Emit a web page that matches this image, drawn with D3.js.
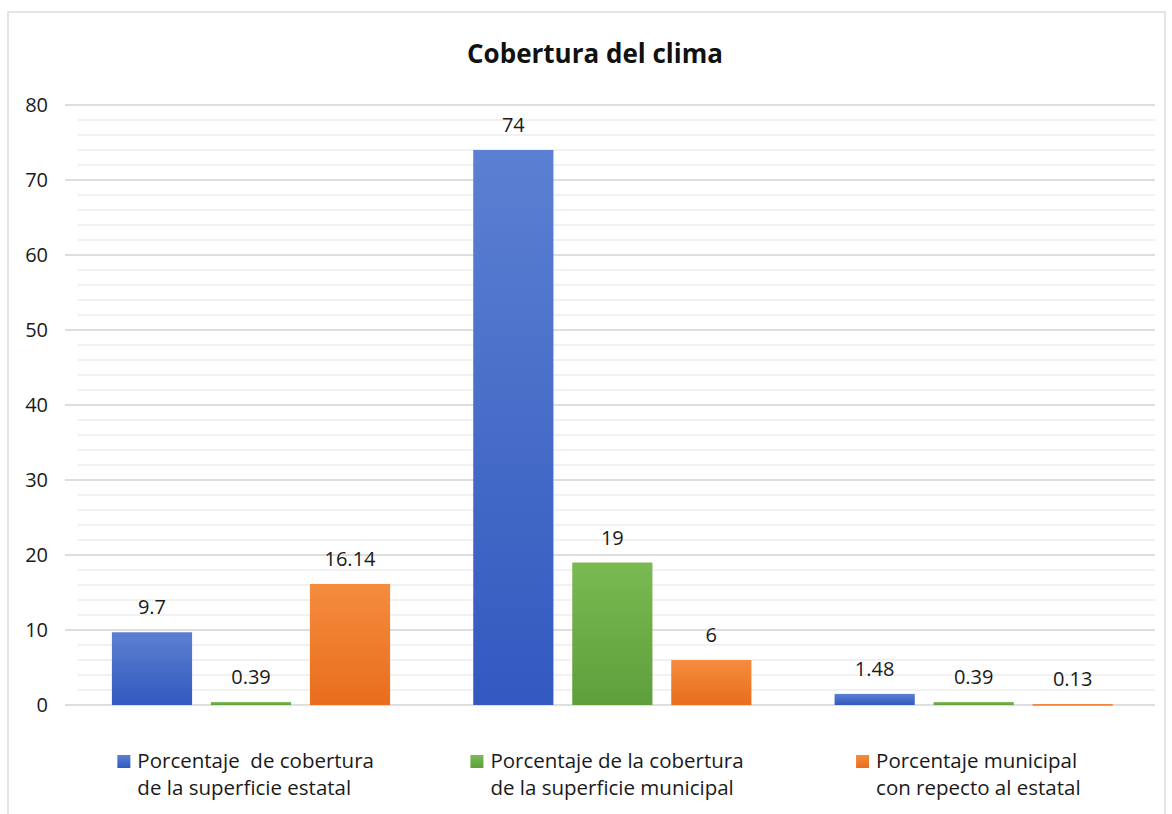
<!DOCTYPE html>
<html>
<head>
<meta charset="utf-8">
<script src="https://cdn.jsdelivr.net/npm/d3@7"></script>
<style>
  body { margin: 0; background: #fff; }
  svg { font-family: "Open Sans", "Noto Sans", sans-serif; }
</style>
</head>
<body>
<div id="chart"></div>
<script>
// chart data
const groups = ['g1', 'g2', 'g3'];
const seriesNames = [
    ['Porcentaje  de cobertura', 'de la superficie estatal'],
    ['Porcentaje de la cobertura', 'de la superficie municipal'],
    ['Porcentaje municipal', 'con repecto al estatal']
];
// top / bottom gradient colours per series
const seriesColors = [['#5b80d2', '#3259bf'], ['#7bba52', '#5e9f3c'], ['#f58c3e', '#e96d1d']];
const estatal = [9.7, 74, 1.48];
const municipal = [0.39, 19, 0.39];
const respecto = [16.14, 6, 0.13];
const labels = [['9.7', '74', '1.48'], ['0.39', '19', '0.39'], ['16.14', '6', '0.13']];
const yTicks = [0, 10, 20, 30, 40, 50, 60, 70, 80];

const values = [estatal, municipal, respecto];

const width = 1172, height = 814;
const margin = { top: 105, right: 17, bottom: 109, left: 65 };

const svg = d3.select('#chart').append('svg')
    .attr('width', width)
    .attr('height', height);

// frame
svg.append('rect')
    .attr('x', 8).attr('y', 12)
    .attr('width', 1157).attr('height', 820)
    .attr('fill', '#fff')
    .attr('stroke', '#dcdcdc')
    .attr('stroke-width', 1.5);

const defs = svg.append('defs');
seriesColors.forEach((c, i) => {
    const g = defs.append('linearGradient')
        .attr('id', 'grad' + i)
        .attr('x1', 0).attr('y1', 0).attr('x2', 0).attr('y2', 1);
    g.append('stop').attr('offset', '0%').attr('stop-color', c[0]);
    g.append('stop').attr('offset', '100%').attr('stop-color', c[1]);
});

const x0 = d3.scaleBand()
    .domain(groups)
    .range([margin.left, 1149]);

const x1 = d3.scaleBand()
    .domain(d3.range(values.length))
    .range([37, 335])
    .paddingInner(0.19)
    .paddingOuter(0.1);

const y = d3.scaleLinear()
    .domain([0, 80])
    .range([height - margin.bottom, margin.top]);

// minor gridlines
svg.append('g')
    .selectAll('line')
    .data(d3.range(0, 81, 2).filter(v => v % 10 !== 0))
    .join('line')
    .attr('x1', margin.left + 13)
    .attr('x2', width - margin.right)
    .attr('y1', d => y(d))
    .attr('y2', d => y(d))
    .attr('stroke', '#ededed')
    .attr('stroke-width', 1.5);

// major gridlines
svg.append('g')
    .selectAll('line')
    .data(yTicks)
    .join('line')
    .attr('x1', margin.left)
    .attr('x2', width - margin.right)
    .attr('y1', d => y(d))
    .attr('y2', d => y(d))
    .attr('stroke', '#dedede')
    .attr('stroke-width', 2);

// y axis labels
svg.append('g')
    .selectAll('text')
    .data(yTicks)
    .join('text')
    .attr('x', 48)
    .attr('y', d => y(d))
    .attr('dy', '0.35em')
    .attr('text-anchor', 'end')
    .attr('font-size', 20)
    .attr('fill', '#1a1a1a')
    .text(d => d);

// bars
const gGroups = svg.append('g')
    .selectAll('g')
    .data(groups)
    .join('g')
    .attr('transform', d => `translate(${x0(d)},0)`);

gGroups.each(function(gname, gi) {
    const sel = d3.select(this);
    values.forEach((vals, si) => {
        const v = vals[gi];
        sel.append('rect')
            .attr('x', x1(si))
            .attr('y', y(v))
            .attr('width', x1.bandwidth())
            .attr('height', Math.max(1.5, y(0) - y(v)))
            .attr('fill', `url(#grad${si})`);
        sel.append('text')
            .attr('x', x1(si) + x1.bandwidth() / 2)
            .attr('y', y(v) - 18)
            .attr('text-anchor', 'middle')
            .attr('font-size', 20)
            .attr('fill', '#1a1a1a')
            .text(labels[si][gi]);
    });
});

// title
svg.append('text')
    .attr('x', 595)
    .attr('y', 63)
    .attr('text-anchor', 'middle')
    .attr('font-size', 26)
    .attr('font-weight', 'bold')
    .attr('fill', '#111')
    .text('Cobertura del clima');

// legend, one entry under each group
seriesNames.forEach((lines, i) => {
    const item = svg.append('g');
    const t = item.append('text')
        .attr('font-size', 20.5)
        .attr('fill', '#1a1a1a');
    lines.forEach((ln, k) => {
        t.append('tspan')
            .attr('x', 20)
            .attr('y', 768 + k * 27)
            .attr('xml:space', 'preserve')
            .style('white-space', 'pre')
            .text(ln);
    });
    item.append('rect')
        .attr('x', 0).attr('y', 755)
        .attr('width', 13).attr('height', 13)
        .attr('fill', `url(#grad${i})`);
    const w = t.node().getBBox().width + 20;
    const cx = x0(groups[i]) + x0.bandwidth() / 2;
    item.attr('transform', `translate(${cx - w / 2},0)`);
});
</script>
</body>
</html>
